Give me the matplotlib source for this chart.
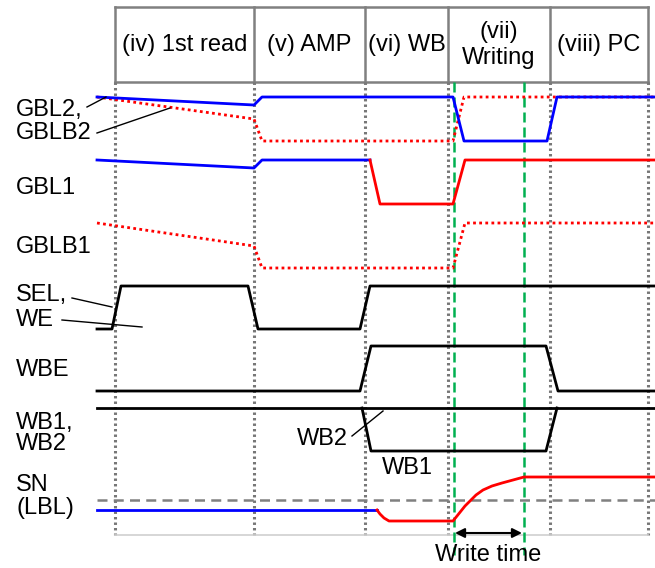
import matplotlib.pyplot as plt

plt.rcParams['font.family'] = ['Liberation Sans', 'DejaVu Sans']

# phase boundaries (x, pixels) and header labels
bounds = [115, 254, 365, 448, 550, 648]
phases = ['(iv) 1st read', '(v) AMP', '(vi) WB', '(vii)\nWriting', '(viii) PC']
green_x = [454, 524]

# signals: x and y (pixel units of the drawing)
gbl2_x = [97, 254, 262, 453, 464, 547, 557, 655]
gbl2_y = [97, 105, 97, 97, 141, 141, 97, 97]
gblb2_x = [97, 254, 262, 453, 464, 655]
gblb2_y = [97, 119, 141, 141, 97, 97]
gbl1_blue_x = [97, 254, 262, 370]
gbl1_blue_y = [160, 168, 160, 160]
gbl1_red_x = [370, 380, 453, 465, 655]
gbl1_red_y = [160, 204, 204, 160, 160]
gblb1_x = [97, 254, 262, 453, 465, 655]
gblb1_y = [223, 246, 268, 268, 223, 223]
sel_x = [97, 112, 121, 248, 258, 360, 370, 655]
sel_y = [329, 329, 286, 286, 329, 329, 286, 286]
wbe_x = [97, 360, 371, 546, 558, 655]
wbe_y = [391, 391, 346, 346, 391, 391]
wb1_x = [97, 655]
wb1_y = [408, 408]
wb2_x = [362, 371, 546, 557]
wb2_y = [408, 451, 451, 408]
sn_blue_x = [97, 377]
sn_blue_y = [510, 510]
sn_red_x = [377, 380, 384, 389, 453, 457, 461, 465, 470, 476, 483, 492, 502, 513, 524, 655]
sn_red_y = [510, 514, 518, 521, 521, 516, 511, 506, 501, 495, 490, 486, 483, 480, 477, 477]
ref_y = 500

left_labels = [('GBL2,', 110), ('GBLB2', 133), ('GBL1', 188), ('GBLB1', 247),
               ('SEL,', 295), ('WE', 320), ('WBE', 370), ('WB1,', 423),
               ('WB2', 444), ('SN', 485), ('(LBL)', 508)]

fig = plt.figure(figsize=(6.55, 5.68), dpi=100)
ax = fig.add_axes([0, 0, 1, 1])
ax.set_xlim(0, 655)
ax.set_ylim(568, 0)
ax.axis('off')

fs = 17
gray = '#808080'
# header boxes
ax.plot([bounds[0], bounds[-1]], [7, 7], color=gray, lw=1.8)
ax.plot([bounds[0], bounds[-1]], [82, 82], color=gray, lw=1.8)
for b in bounds:
    ax.plot([b, b], [7, 82], color=gray, lw=1.8)
    ax.plot([b, b], [82, 535], color='#777777', lw=2.2, ls=(0, (0.8, 1.0)))
for i, p in enumerate(phases):
    ax.text((bounds[i] + bounds[i+1]) / 2, 45, p, ha='center', va='center',
            fontsize=fs, linespacing=1.25)
ax.plot([bounds[0], bounds[-1]], [535, 535], color='#d0d0d0', lw=1.2)

for g in green_x:
    ax.plot([g, g], [82, 555], color='#00b050', lw=1.8, ls=(0, (4, 2)))

ax.plot([97, 655], [ref_y, ref_y], color=gray, lw=1.8, ls=(0, (4, 2.5)))

blue = '#0000ff'
red = '#ff0000'
ax.plot(gblb2_x, gblb2_y, color=red, lw=2, ls=(0, (1, 1.2)))
ax.plot(gbl2_x, gbl2_y, color=blue, lw=2)
ax.plot(gbl1_blue_x, gbl1_blue_y, color=blue, lw=2)
ax.plot(gbl1_red_x, gbl1_red_y, color=red, lw=2)
ax.plot(gblb1_x, gblb1_y, color=red, lw=2, ls=(0, (1, 1.2)))
ax.plot(sel_x, sel_y, color='black', lw=2)
ax.plot(wbe_x, wbe_y, color='black', lw=2)
ax.plot(wb1_x, wb1_y, color='black', lw=2)
ax.plot(wb2_x, wb2_y, color='black', lw=2)
ax.plot(sn_blue_x, sn_blue_y, color=blue, lw=2)
ax.plot(sn_red_x, sn_red_y, color=red, lw=2)

for txt, y in left_labels:
    ax.text(16, y, txt, ha='left', va='center', fontsize=fs)

# leader lines
leaders = [((87, 107), (106, 97)), ((97, 133), (170, 108)),
           ((72, 298), (112, 307)), ((62, 320), (142, 327)),
           ((352, 436), (383, 411))]
for (x0, y0), (x1, y1) in leaders:
    ax.plot([x0, x1], [y0, y1], color='black', lw=1)

ax.text(322, 439, 'WB2', ha='center', va='center', fontsize=fs)
ax.text(407, 468, 'WB1', ha='center', va='center', fontsize=fs)

ax.annotate('', xy=(455, 533), xytext=(522, 533),
            arrowprops=dict(arrowstyle='<|-|>', color='black', lw=1.5,
                            mutation_scale=14, shrinkA=0, shrinkB=0))
ax.text(488, 555, 'Write time', ha='center', va='center', fontsize=fs)

fig.savefig('out.png', dpi=100)
